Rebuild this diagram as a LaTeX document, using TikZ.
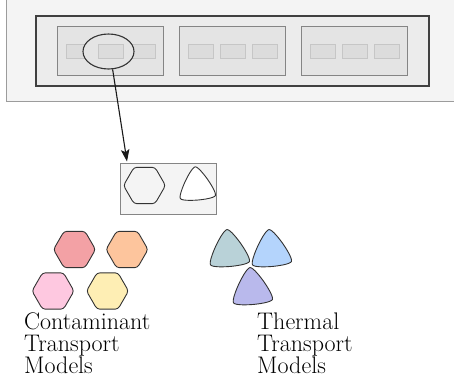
\documentclass[tikz,border=0pt]{standalone}
\usepackage{fontspec}
\usepackage{xcolor}
\usepackage{tikz}
\usetikzlibrary{arrows.meta,positioning,calc,shapes.geometric}
\definecolor{panelgray}{RGB}{244,244,244}
\definecolor{panelline}{RGB}{156,156,156}
\definecolor{rackfill}{RGB}{236,236,236}
\definecolor{rackline}{RGB}{64,64,64}
\definecolor{modfill}{RGB}{228,228,228}
\definecolor{modline}{RGB}{133,133,133}
\definecolor{slotfill}{RGB}{220,220,220}
\definecolor{slotline}{RGB}{198,198,198}
\definecolor{outline}{RGB}{51,51,51}
\definecolor{hexred}{RGB}{243,161,165}
\definecolor{hexorange}{RGB}{253,197,157}
\definecolor{hexpink}{RGB}{254,200,224}
\definecolor{hexyellow}{RGB}{254,238,180}
\definecolor{trigray}{RGB}{185,210,216}
\definecolor{triblue}{RGB}{180,212,252}
\definecolor{trilav}{RGB}{185,185,236}

\tikzset{
  % rounded triangle with slightly bulging sides, filled with #1
  pics/tricell/.style={code={
    \filldraw[fill=#1,draw=outline,line width=0.9pt]
      plot[smooth cycle,tension=0.45] coordinates
        {(-95:22.5) (205:14.5) (145:22.5) (85:14.5) (25:22.5) (-35:14.5)};
  }}
}

\begin{document}
\begin{tikzpicture}[x=1pt,y=-1pt,>=Latex,
    module/.style={fill=modfill,draw=modline,line width=0.8pt},
    slot/.style={fill=slotfill,draw=slotline,line width=0.8pt},
    lens/.style={ellipse,minimum width=51pt,minimum height=35pt,inner sep=0pt,
                 fill=modfill,draw=outline,line width=1.1pt},
    zoombox/.style={rectangle,minimum width=96pt,minimum height=51pt,inner sep=0pt,
                    fill=panelgray,draw=modline,line width=0.8pt},
    hexcell/.style={regular polygon,regular polygon sides=6,minimum size=42pt,
                    inner sep=0pt,rounded corners=3pt,draw=outline,line width=0.9pt},
    zoomarrow/.style={-{Stealth[length=12pt,width=8.5pt,inset=2.5pt]},
                      line width=1.1pt,draw=black!90},
    modelname/.style={anchor=north west,align=left,inner sep=0pt,
                      font=\fontsize{24}{22}\selectfont}]
  \useasboundingbox (0,0) rectangle (454,378);

  % Top panel with the rack of three modules
  \draw[fill=panelgray,draw=panelline,line width=0.8pt] (6,-3) rectangle (460,101);
  \draw[fill=rackfill,draw=rackline,line width=1.6pt] (36,16) rectangle (429,86);
  \foreach \i in {0,1,2} {
    \draw[module] (57+122*\i,26) rectangle ++(106,49);
    \foreach \j in {0,1,2}
      \draw[slot] (57+122*\i+9+32*\j,44) rectangle ++(25,14);
  }

  % Lens over the middle slot of the first module
  \node[lens] (lens) at (108.5,51.5) {};
  \draw[slot] (98,44) rectangle ++(25,14);

  % Enlarged view of the selected slot
  \node[zoombox] (zoombox) at (168,188.5) {};
  \coordinate (zoomtip) at (127,161.5);
  \draw[zoomarrow] (lens.283) -- (zoomtip);
  \node[hexcell,fill=panelgray] (zoomhex) at (144.5,185.5) {};
  \pic[scale=0.9] (zoomtri) at (197,187) {tricell=white};

  % Contaminant transport models
  \node[hexcell,fill=hexred]    (hexA) at (74.5,249.5) {};
  \node[hexcell,fill=hexorange] (hexB) at (127,249.5) {};
  \node[hexcell,fill=hexpink]   (hexC) at (53,291) {};
  \node[hexcell,fill=hexyellow] (hexD) at (107.5,291) {};
  \node[modelname] (contam) at (24,313) {Contaminant\\Transport\\Models};

  % Thermal transport models
  \pic (triA) at (229,252) {tricell=trigray};
  \pic (triB) at (271,252) {tricell=triblue};
  \pic (triC) at (252,290) {tricell=trilav};
  \node[modelname] (thermal) at (257,313) {Thermal\\Transport\\Models};
\end{tikzpicture}
\end{document}
